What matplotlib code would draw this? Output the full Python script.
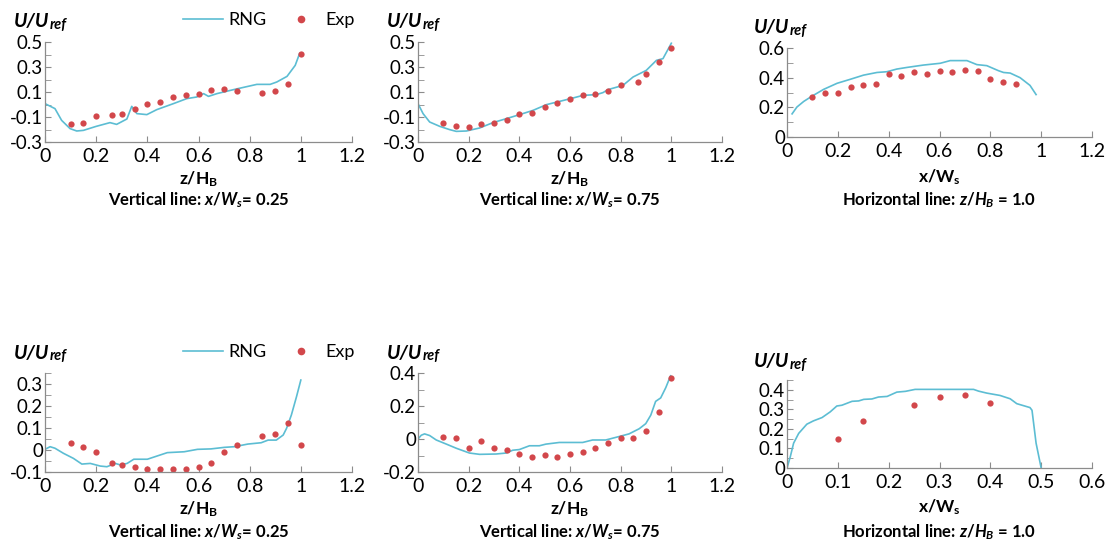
import matplotlib
matplotlib.use("Agg")
import matplotlib.pyplot as plt
from matplotlib.lines import Line2D
from matplotlib.ticker import MultipleLocator, FormatStrFormatter

plt.rcParams['font.family'] = ['Lato', 'DejaVu Sans']
plt.rcParams['mathtext.fontset'] = 'custom'
plt.rcParams['mathtext.rm'] = 'Lato:bold'
plt.rcParams['mathtext.it'] = 'Lato:bold:italic'
plt.rcParams['mathtext.bf'] = 'Lato:bold'

LINE_COLOR = '#5cbdd3'
DOT_COLOR = '#d2474b'
SPINE_COLOR = '#8c8c8c'

# ---- top row: x/Ws = 0.25 (vertical line)
rng1_x = [0, 0.039, 0.065, 0.098, 0.124, 0.15, 0.2, 0.254, 0.28, 0.32, 0.339, 0.359, 0.398,
          0.437, 0.502, 0.554, 0.593, 0.62, 0.639, 0.672, 0.737, 0.828, 0.88, 0.906, 0.946,
          0.978, 0.995]
rng1_y = [0.007, -0.033, -0.127, -0.193, -0.212, -0.207, -0.175, -0.145, -0.159, -0.116, -0.015,
          -0.073, -0.081, -0.041, 0.007, 0.047, 0.06, 0.087, 0.065, 0.087, 0.119, 0.161, 0.161,
          0.18, 0.225, 0.313, 0.407]
exp1_x = [0.1, 0.15, 0.2, 0.26, 0.3, 0.35, 0.4, 0.45, 0.5, 0.55, 0.6, 0.65, 0.7, 0.75, 0.85, 0.9, 0.95, 1.0]
exp1_y = [-0.153, -0.148, -0.095, -0.087, -0.076, -0.036, 0.007, 0.017, 0.063, 0.073, 0.087,
          0.113, 0.127, 0.105, 0.095, 0.105, 0.164, 0.407]

# ---- top row: x/Ws = 0.75
rng2_x = [0, 0.02, 0.046, 0.086, 0.125, 0.151, 0.191, 0.243, 0.296, 0.349, 0.401, 0.454, 0.507,
          0.559, 0.612, 0.651, 0.704, 0.73, 0.75, 0.809, 0.849, 0.901, 0.928, 0.941, 0.967, 1.0]
rng2_y = [0.007, -0.073, -0.14, -0.175, -0.201, -0.215, -0.212, -0.188, -0.145, -0.113, -0.081,
          -0.047, -0.001, 0.025, 0.052, 0.073, 0.079, 0.095, 0.119, 0.153, 0.22, 0.273, 0.327,
          0.353, 0.367, 0.49]
exp2_x = [0.1, 0.15, 0.2, 0.25, 0.3, 0.35, 0.4, 0.45, 0.5, 0.55, 0.6, 0.65, 0.7, 0.75, 0.8,
          0.87, 0.9, 0.95, 1.0]
exp2_y = [-0.148, -0.169, -0.177, -0.159, -0.148, -0.124, -0.076, -0.068, -0.017, 0.015, 0.044,
          0.076, 0.081, 0.105, 0.159, 0.177, 0.247, 0.337, 0.452]

# ---- top row: horizontal line z/HB = 1.0
rng3_x = [0.02, 0.039, 0.066, 0.098, 0.144, 0.197, 0.249, 0.301, 0.354, 0.393, 0.432, 0.472,
          0.537, 0.603, 0.642, 0.708, 0.747, 0.786, 0.832, 0.852, 0.878, 0.917, 0.956, 0.98]
rng3_y = [0.156, 0.202, 0.24, 0.275, 0.321, 0.362, 0.389, 0.417, 0.435, 0.44, 0.458, 0.469,
          0.485, 0.497, 0.515, 0.515, 0.488, 0.481, 0.447, 0.435, 0.431, 0.4, 0.348, 0.286]
exp3_x = [0.1, 0.15, 0.2, 0.25, 0.3, 0.35, 0.4, 0.45, 0.5, 0.55, 0.6, 0.65, 0.7, 0.75, 0.8, 0.85, 0.9]
exp3_y = [0.268, 0.298, 0.298, 0.339, 0.348, 0.36, 0.424, 0.412, 0.435, 0.424, 0.444, 0.435,
          0.453, 0.444, 0.394, 0.373, 0.36]

# ---- bottom row: x/Ws = 0.25
rng4_x = [0, 0.02, 0.039, 0.072, 0.111, 0.144, 0.177, 0.216, 0.242, 0.275, 0.295, 0.321, 0.347,
          0.4, 0.439, 0.478, 0.544, 0.596, 0.649, 0.701, 0.74, 0.793, 0.845, 0.872, 0.904,
          0.931, 0.944, 0.963, 0.983, 1.0]
rng4_y = [0.003, 0.015, 0.008, -0.015, -0.038, -0.064, -0.061, -0.073, -0.076, -0.061, -0.068,
          -0.061, -0.042, -0.042, -0.027, -0.012, -0.008, 0.003, 0.005, 0.012, 0.015, 0.027,
          0.033, 0.045, 0.045, 0.068, 0.098, 0.159, 0.242, 0.318]
exp4_x = [0.1, 0.15, 0.2, 0.26, 0.3, 0.35, 0.4, 0.45, 0.5, 0.55, 0.6, 0.65, 0.7, 0.75, 0.85, 0.9, 0.95, 1.0]
exp4_y = [0.030, 0.012, -0.008, -0.061, -0.068, -0.079, -0.088, -0.088, -0.088, -0.088, -0.079,
          -0.058, -0.009, 0.023, 0.064, 0.071, 0.123, 0.023]

# ---- bottom row: x/Ws = 0.75
rng5_x = [0, 0.013, 0.026, 0.046, 0.072, 0.112, 0.151, 0.203, 0.243, 0.308, 0.348, 0.374, 0.4,
          0.44, 0.479, 0.505, 0.558, 0.61, 0.65, 0.689, 0.741, 0.794, 0.833, 0.873, 0.899,
          0.919, 0.938, 0.958, 0.978, 0.997]
rng5_y = [0, 0.023, 0.031, 0.021, -0.006, -0.031, -0.056, -0.085, -0.093, -0.091, -0.085,
          -0.068, -0.064, -0.041, -0.041, -0.031, -0.021, -0.021, -0.021, -0.006, -0.006, 0.015,
          0.031, 0.062, 0.093, 0.145, 0.228, 0.249, 0.311, 0.383]
exp5_x = [0.1, 0.15, 0.2, 0.25, 0.3, 0.35, 0.4, 0.45, 0.5, 0.55, 0.6, 0.65, 0.7, 0.75, 0.8,
          0.85, 0.9, 0.95, 1.0]
exp5_y = [0.015, 0.006, -0.056, -0.015, -0.056, -0.068, -0.089, -0.112, -0.099, -0.112, -0.089,
          -0.077, -0.056, -0.025, 0.006, 0.006, 0.048, 0.162, 0.371]

# ---- bottom row: horizontal line z/HB = 1.0
rng6_x = [0, 0.0066, 0.013, 0.023, 0.039, 0.052, 0.069, 0.085, 0.098, 0.108, 0.128, 0.141, 0.151,
          0.167, 0.18, 0.197, 0.216, 0.233, 0.252, 0.275, 0.367, 0.377, 0.393, 0.419, 0.439,
          0.452, 0.478, 0.482, 0.49, 0.5]
rng6_y = [0, 0.059, 0.127, 0.177, 0.224, 0.241, 0.258, 0.287, 0.317, 0.321, 0.341, 0.343, 0.351,
          0.353, 0.363, 0.366, 0.388, 0.392, 0.402, 0.402, 0.402, 0.393, 0.383, 0.371, 0.354,
          0.329, 0.309, 0.295, 0.127, 0]
exp6_x = [0.1, 0.15, 0.25, 0.3, 0.35, 0.4]
exp6_y = [0.147, 0.238, 0.321, 0.361, 0.371, 0.331]

top_yticks = [-0.3, -0.1, 0.1, 0.3, 0.5]

W, H = 1110, 551
fig = plt.figure(figsize=(W / 100, H / 100), dpi=100)


def px_axes(left, top, right, bottom):
    return fig.add_axes([left / W, 1 - bottom / H, (right - left) / W, (bottom - top) / H])


panels = [
    # rect(px), data, xlim, ylim, ystep, yminor, xstep
    ((45, 42, 352, 142), (rng1_x, rng1_y, exp1_x, exp1_y), (0, 1.2), (-0.3, 0.5), None, 0.1, 0.2),
    ((418, 42, 722, 142), (rng2_x, rng2_y, exp2_x, exp2_y), (0, 1.2), (-0.3, 0.5), None, 0.1, 0.2),
    ((787, 48, 1092, 137), (rng3_x, rng3_y, exp3_x, exp3_y), (0, 1.2), (0, 0.6), 0.2, 0.1, 0.2),
    ((45, 373, 352, 472), (rng4_x, rng4_y, exp4_x, exp4_y), (0, 1.2), (-0.1, 0.35), 0.1, 0.05, 0.2),
    ((418, 373, 722, 472), (rng5_x, rng5_y, exp5_x, exp5_y), (0, 1.2), (-0.2, 0.4), 0.2, 0.1, 0.2),
    ((787, 380, 1092, 468), (rng6_x, rng6_y, exp6_x, exp6_y), (0, 0.6), (0, 0.45), 0.1, 0.05, 0.1),
]

axes = []
for rect, (lx, ly, ex, ey), xlim, ylim, ystep, yminor, xstep in panels:
    ax = px_axes(*rect)
    ax.plot(lx, ly, color=LINE_COLOR, lw=1.2)
    ax.plot(ex, ey, 'o', color=DOT_COLOR, ms=4.5, mec='none')
    ax.set_xlim(*xlim)
    ax.set_ylim(*ylim)
    ax.xaxis.set_major_locator(MultipleLocator(xstep))
    if ystep is None:
        ax.set_yticks(top_yticks)
    else:
        ax.yaxis.set_major_locator(MultipleLocator(ystep))
    ax.yaxis.set_minor_locator(MultipleLocator(yminor))
    ax.xaxis.set_major_formatter(FormatStrFormatter('%g'))
    ax.yaxis.set_major_formatter(FormatStrFormatter('%g'))
    for s in ['top', 'right']:
        ax.spines[s].set_visible(False)
    for s in ['left', 'bottom']:
        ax.spines[s].set_color(SPINE_COLOR)
        ax.spines[s].set_linewidth(0.9)
    ax.tick_params(which='both', direction='in', color=SPINE_COLOR, labelsize=14, length=4)
    ax.tick_params(axis='y', pad=1.5, labelsize=13.5)
    ax.tick_params(axis='x', pad=4)
    axes.append(ax)

# y-axis label "U/Uref"
ylab_pos = [(14, 22), (387, 22), (754, 28), (14, 353), (387, 353), (754, 362)]
for x0, y0 in ylab_pos:
    t = fig.text(x0 / W, 1 - y0 / H, 'U/U', fontsize=14, fontweight='bold', style='italic',
                 va='center', ha='left')
    fig.add_artist(matplotlib.text.Annotation(
        'ref', xy=(1, 0.5), xycoords=t, xytext=(0.5, -2), textcoords='offset points',
        fontsize=10.5, fontweight='bold', style='italic', va='center', ha='left'))

# x labels and titles
xlabels = [r'$\mathrm{z/H}_{\mathrm{B}}$', r'$\mathrm{z/H}_{\mathrm{B}}$', r'$\mathrm{x/W}_{\mathrm{s}}$'] * 2
titles = [r'Vertical line: $x/W_s$= 0.25', r'Vertical line: $x/W_s$= 0.75',
          r'Horizontal line: $z/H_B$ = 1.0'] * 2
xl_y = [179, 179, 177, 509, 509, 507]
ti_y = [200, 200, 200, 532, 532, 532]
for ax, xl, ti, y1, y2 in zip(axes, xlabels, titles, xl_y, ti_y):
    pos = ax.get_position()
    cx = (pos.x0 + pos.x1) / 2
    fig.text(cx, 1 - y1 / H, xl, fontsize=12.5, ha='center', va='center')
    fig.text(cx, 1 - y2 / H, ti, fontsize=12, fontweight='bold', ha='center', va='center')

# legends
handles = [Line2D([], [], color=LINE_COLOR, lw=1.2),
           Line2D([], [], ls='none', marker='o', color=DOT_COLOR, ms=5.5, mec='none')]
for y0 in [20, 352]:
    fig.legend(handles, ['RNG', 'Exp'], loc='center left', bbox_to_anchor=(183 / W, 1 - y0 / H),
               ncol=2, frameon=False, fontsize=13, handlelength=2.2, handletextpad=0.3,
               columnspacing=0.8, borderpad=0, borderaxespad=0)

fig.savefig('out.png', dpi=100)
